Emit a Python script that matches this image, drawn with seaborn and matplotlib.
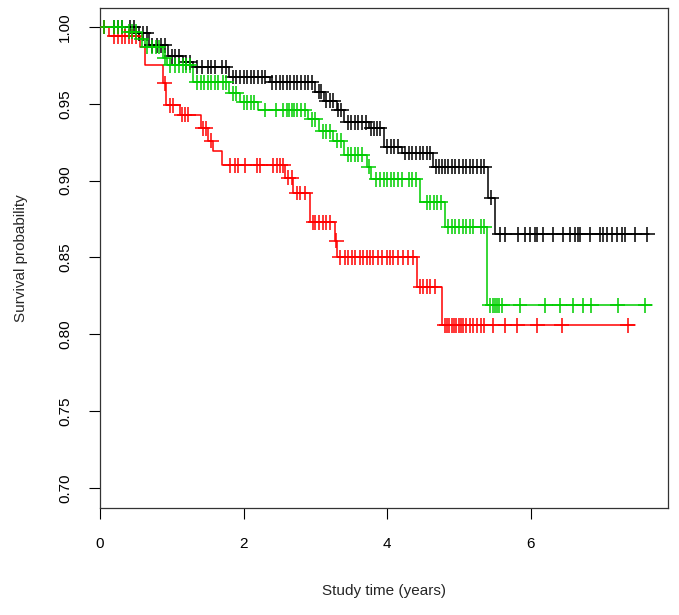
import numpy as np
import pandas as pd
import matplotlib
matplotlib.use('Agg')
import matplotlib.pyplot as plt
import seaborn as sns

# Kaplan-Meier curves, three strata
black_event_t = [0.5, 0.68, 0.95, 1.15, 1.3, 1.8, 2.37, 3.0, 3.12, 3.3, 3.4, 3.75, 3.95, 4.2, 4.64, 5.4, 5.5]
black_event_s = [0.996, 0.988, 0.981, 0.977, 0.974, 0.9675, 0.964, 0.958, 0.952, 0.946, 0.938, 0.934, 0.922, 0.918, 0.909, 0.889, 0.865]
black_cens_t = [0.05, 0.2, 0.25, 0.3, 0.42, 0.47, 0.55, 0.6, 0.65, 0.72, 0.8, 0.85, 0.9,
                1.0, 1.05, 1.1, 1.2, 1.25, 1.35, 1.42, 1.5, 1.55, 1.6, 1.7, 1.75,
                1.85, 1.9, 1.95, 2.0, 2.05, 2.1, 2.15, 2.2, 2.25, 2.3,
                2.4, 2.45, 2.5, 2.55, 2.6, 2.65, 2.7, 2.75, 2.8, 2.85, 2.9, 2.95,
                3.05, 3.08, 3.15, 3.2, 3.25, 3.32, 3.36,
                3.45, 3.5, 3.55, 3.6, 3.65, 3.7, 3.78, 3.82, 3.86, 3.9,
                4.0, 4.05, 4.1, 4.15, 4.25, 4.3, 4.35, 4.4, 4.45, 4.5, 4.55, 4.6,
                4.68, 4.72, 4.76, 4.8, 4.85, 4.9, 4.95, 5.0, 5.05, 5.1, 5.15, 5.2, 5.25, 5.3, 5.35,
                5.45, 5.57, 5.64, 5.82, 5.92, 5.99, 6.06, 6.09, 6.17, 6.31, 6.45, 6.55, 6.62,
                6.66, 6.69, 6.82, 6.96, 7.0, 7.06, 7.13, 7.2, 7.27, 7.31, 7.45, 7.62]
black_end = 7.65

red_event_t = [0.12, 0.56, 0.62, 0.88, 0.92, 1.12, 1.4, 1.5, 1.57, 1.7, 2.58, 2.69, 2.92, 3.27, 3.3, 4.41, 4.76]
red_event_s = [0.994, 0.987, 0.975, 0.9635, 0.949, 0.943, 0.934, 0.926, 0.919, 0.910, 0.902, 0.892, 0.873, 0.861, 0.850, 0.831, 0.806]
red_cens_t = [0.05, 0.2, 0.25, 0.3, 0.35, 0.4, 0.45, 0.5, 0.9, 0.98, 1.02, 1.14, 1.18, 1.23, 1.43, 1.47, 1.55,
              1.81, 1.88, 1.92, 2.02, 2.19, 2.23, 2.41, 2.47, 2.51, 2.55, 2.62, 2.67,
              2.74, 2.79, 2.86, 2.97, 3.0, 3.05, 3.1, 3.15, 3.2, 3.29,
              3.34, 3.41, 3.45, 3.51, 3.55, 3.62, 3.66, 3.72, 3.76, 3.8, 3.87, 3.93, 4.0, 4.04,
              4.08, 4.15, 4.22, 4.29, 4.36, 4.46, 4.5, 4.55, 4.6, 4.66,
              4.8, 4.83, 4.86, 4.9, 4.93, 4.96, 5.0, 5.03, 5.06, 5.1, 5.15, 5.2, 5.25, 5.3, 5.35,
              5.47, 5.64, 5.81, 6.09, 6.43, 7.35]
red_end = 7.45

green_event_t = [0.35, 0.55, 0.62, 0.88, 0.93, 1.3, 1.8, 1.95, 2.2, 2.9, 3.05, 3.25, 3.4, 3.72, 3.77, 4.46, 4.8, 5.39]
green_event_s = [0.997, 0.992, 0.987, 0.98, 0.975, 0.964, 0.957, 0.951, 0.946, 0.940, 0.932, 0.926, 0.917, 0.909, 0.901, 0.886, 0.87, 0.819]
green_cens_t = [0.05, 0.2, 0.25, 0.3, 0.4, 0.45, 0.5, 0.58, 0.66, 0.72, 0.78, 0.82, 0.9,
                0.98, 1.05, 1.1, 1.15, 1.2, 1.25, 1.35, 1.4, 1.45, 1.5, 1.55, 1.6, 1.65, 1.72, 1.76,
                1.85, 1.9, 2.0, 2.05, 2.1, 2.15, 2.3, 2.45, 2.55, 2.6, 2.63, 2.67, 2.7, 2.75, 2.8, 2.85,
                2.95, 3.0, 3.1, 3.15, 3.2, 3.3, 3.35, 3.45, 3.5, 3.55, 3.6, 3.65, 3.74,
                3.85, 3.9, 3.95, 4.0, 4.05, 4.1, 4.15, 4.2, 4.3, 4.35, 4.4,
                4.55, 4.6, 4.65, 4.7, 4.75, 4.85, 4.9, 4.95, 5.0, 5.05, 5.1, 5.15, 5.2, 5.3, 5.35,
                5.43, 5.47, 5.5, 5.53, 5.56, 5.6, 5.85, 6.2, 6.4, 6.59, 6.73, 6.84, 7.21, 7.59]
green_end = 7.69

groups = ['1', '2', '3']
colors = {'1': 'black', '2': 'red', '3': '#00CD00'}
curves = {
    '1': (black_event_t, black_event_s, black_cens_t, black_end),
    '2': (red_event_t, red_event_s, red_cens_t, red_end),
    '3': (green_event_t, green_event_s, green_cens_t, green_end),
}

# build step tables and censor tables
line_rows = []
cens_rows = []
for g in groups:
    ev_t, ev_s, c_t, end = curves[g]
    tt = [0.0] + ev_t + [end]
    ss = [1.0] + ev_s + [ev_s[-1]]
    for a, b in zip(tt, ss):
        line_rows.append((g, a, b))
    levels = np.array([1.0] + ev_s)
    idx = np.searchsorted(np.array(ev_t), np.array(c_t), side='right')
    for a, b in zip(c_t, levels[idx]):
        cens_rows.append((g, a, b))
lines_df = pd.DataFrame(line_rows, columns=['grp', 'time', 'surv'])
cens_df = pd.DataFrame(cens_rows, columns=['grp', 'time', 'surv'])

sns.set_style('white')
plt.rcParams['font.family'] = ['Liberation Sans', 'DejaVu Sans']

fig = plt.figure(figsize=(6.79, 6.15), dpi=100)
ax = fig.add_axes([100 / 679, 1 - 508 / 615, 568 / 679, 500 / 615])

sns.lineplot(data=lines_df, x='time', y='surv', hue='grp', palette=colors,
             drawstyle='steps-post', estimator=None, sort=False, legend=False,
             linewidth=1.1, ax=ax)
sns.scatterplot(data=cens_df, x='time', y='surv', hue='grp', palette=colors,
                marker='+', s=115, linewidth=1.1, legend=False, ax=ax, zorder=3)

ax.set_xlim(0, 568 / 71.8)
ax.set_ylim(0.70 - 20 / 1536, 1.0 + 19 / 1536)
ax.set_xticks([0, 2, 4, 6])
ax.set_yticks([0.70, 0.75, 0.80, 0.85, 0.90, 0.95, 1.00])
ax.set_yticklabels(['0.70', '0.75', '0.80', '0.85', '0.90', '0.95', '1.00'], rotation=90, va='center')
ax.tick_params(axis='both', direction='out', length=8, width=0.8, color='black',
               labelsize=11, labelcolor='black', bottom=True, left=True)
ax.tick_params(axis='x', pad=13)
ax.tick_params(axis='y', pad=12)
for sp in ax.spines.values():
    sp.set_visible(True)
    sp.set_color('#333333')
    sp.set_linewidth(0.9)

ax.set_xlabel('Study time (years)', fontsize=11, labelpad=24)
ax.set_ylabel('Survival probability', fontsize=11, labelpad=22)

fig.savefig('out.png', dpi=100)
